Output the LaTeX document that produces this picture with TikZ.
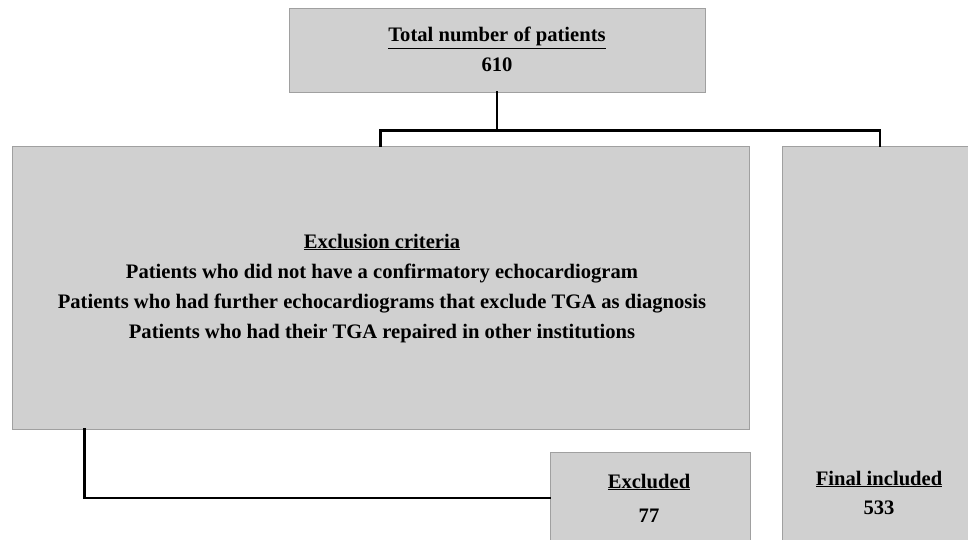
\documentclass[tikz,border=0pt]{standalone}
\usepackage{fontspec}
\setmainfont{Liberation Serif}
\usetikzlibrary{calc}
\tikzset{
  gbox/.style={draw=boxedge, fill=boxfill, line width=0.8pt, inner sep=0pt, rectangle},
  lbl/.style={font=\bfseries\fontsize{20.6}{30}\selectfont, align=center, inner sep=0pt, anchor=base},
  conn/.style={line width=2.6pt, line cap=rect},
}
\definecolor{boxfill}{HTML}{D0D0D0}
\definecolor{boxedge}{HTML}{A0A0A0}
\begin{document}
\begin{tikzpicture}[x=1pt,y=-1pt]
\useasboundingbox (0,0) rectangle (968,540);
\clip (0,0) rectangle (968,540);
% boxes
\node[gbox, minimum width=416pt, minimum height=84pt] (top) at (497,50) {};
\node[gbox, minimum width=737pt, minimum height=283pt] (excl) at (380.5,287.5) {};
\node[gbox, minimum width=196pt, minimum height=420pt] (final) at (880,356) {};
\node[gbox, minimum width=200pt, minimum height=92pt] (exd) at (650,498) {};
% texts
\node[lbl] (toptitle) at (497,42) {\underline{Total number of patients}};
\node[lbl] (topnum) at (497,72) {610};
\node[lbl] (excltxt) at (382,338)
  {\underline{Exclusion criteria}\\
   Patients who did not have a confirmatory echocardiogram\\
   Patients who had further echocardiograms that exclude TGA as diagnosis\\
   Patients who had their TGA repaired in other institutions};
\node[lbl] (exdtitle) at (649,488) {\underline{Excluded}};
\node[lbl] (exdnum) at (649,522) {77};
\node[lbl] (fintitle) at (879,485) {\underline{Final included}};
\node[lbl] (finnum) at (879,514) {533};
% connectors
\coordinate (j) at ($(top.south)+(0,38)$);
\draw[conn] (top.south) -- (j);
\draw[conn] (excl.north) |- (final.north |- j) -- (final.north);
\draw[conn] ([xshift=73pt]excl.south west) |- (exd.west);
\end{tikzpicture}
\end{document}
